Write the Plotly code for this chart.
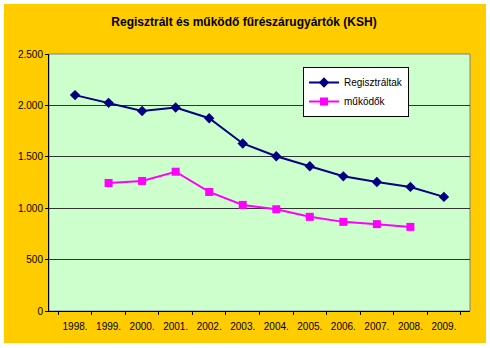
import plotly.graph_objects as go

years = ["1998.", "1999.", "2000.", "2001.", "2002.", "2003.",
         "2004.", "2005.", "2006.", "2007.", "2008.", "2009."]
regisztraltak = [2100, 2025, 1945, 1980, 1875, 1630, 1505, 1408, 1310, 1255, 1207, 1110]
mukodok = [None, 1245, 1265, 1355, 1158, 1032, 990, 916, 867, 845, 818, None]
y_ticks = [0, 500, 1000, 1500, 2000, 2500]
y_ticktext = ["0", "500", "1.000", "1.500", "2.000", "2.500"]

W, H = 490, 348
ml, mr, mt, mb = 49, 20, 54, 37
pw, ph = W - ml - mr, H - mt - mb

def px_x(p):
    return (p - ml) / pw

def px_y(p):
    return (H - mb - p) / ph

fig = go.Figure()
fig.add_trace(go.Scatter(
    x=years, y=regisztraltak, name="Regisztráltak", mode="lines+markers",
    line=dict(color="#000080", width=2),
    marker=dict(symbol="diamond", size=8, color="#000080"),
))
fig.add_trace(go.Scatter(
    x=years, y=mukodok, name="működők", mode="lines+markers",
    line=dict(color="#FF00FF", width=2),
    marker=dict(symbol="square", size=8, color="#FF00FF"),
))

fig.add_shape(type="rect", xref="paper", yref="paper", layer="below",
              x0=px_x(4), x1=px_x(486), y0=px_y(343), y1=px_y(4),
              fillcolor="#FFCC00", line=dict(width=0))
fig.add_shape(type="rect", xref="paper", yref="paper", layer="below",
              x0=0, x1=1, y0=0, y1=1,
              fillcolor="#CCFFCC", line=dict(color="#808080", width=1))

fig.update_layout(
    width=W, height=H,
    margin=dict(l=ml, r=mr, t=mt, b=mb),
    paper_bgcolor="white",
    plot_bgcolor="rgba(0,0,0,0)",
    font=dict(family="Liberation Sans, Arial, sans-serif", size=10, color="black"),
    title=dict(text="<b>Regisztrált és működő fűrészárugyártók (KSH)</b>",
               xref="container", yref="container",
               x=244 / W, xanchor="center", y=1 - 22 / H, yanchor="middle",
               font=dict(size=12, color="black")),
    showlegend=True,
    legend=dict(x=px_x(303), y=px_y(67), xanchor="left", yanchor="top",
                bgcolor="white", bordercolor="black", borderwidth=1,
                font=dict(size=10), itemwidth=30, tracegroupgap=0),
    xaxis=dict(type="category", tickson="boundaries", ticks="outside",
               ticklen=3, tickcolor="black", showgrid=False, tickangle=0,
               ticklabelstandoff=6,
               showline=True, linecolor="black", linewidth=1,
               tickfont=dict(size=10), fixedrange=True),
    yaxis=dict(range=[0, 2500], tickvals=y_ticks, ticktext=y_ticktext,
               ticks="outside", ticklen=3, tickcolor="black",
               showgrid=True, gridcolor="#333333", gridwidth=1,
               showline=True, linecolor="black", linewidth=1,
               zeroline=False, tickfont=dict(size=10), fixedrange=True),
)

fig.write_html("out.html")
